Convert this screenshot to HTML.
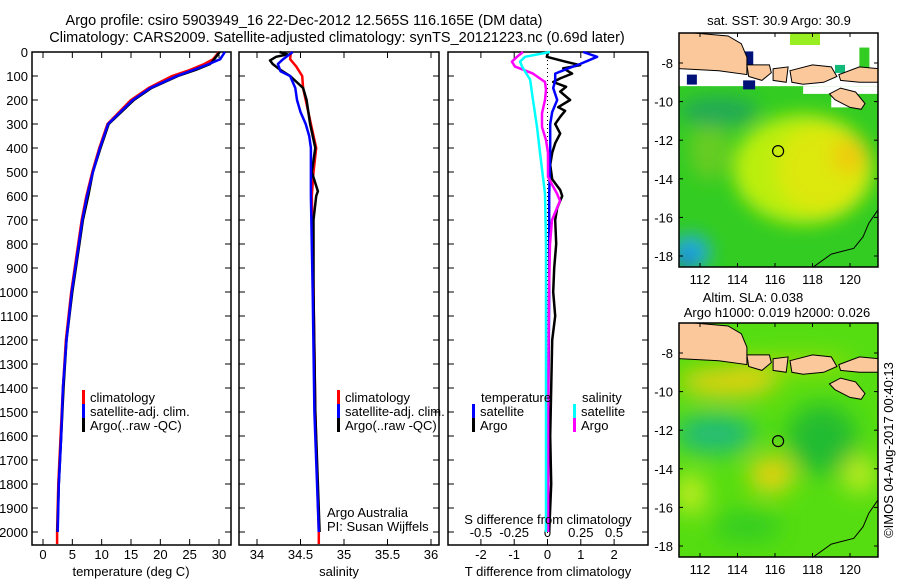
<!DOCTYPE html>
<html><head><meta charset="utf-8">
<style>
html,body{margin:0;padding:0;background:#fff;}
svg{display:block;font-family:"Liberation Sans",sans-serif;}
text{font-size:13px;fill:#000;}
</style></head>
<body>
<svg id="chart" width="900" height="580" viewBox="0 0 900 580" xmlns="http://www.w3.org/2000/svg">
<defs>
<filter id="blur1" x="-50%" y="-50%" width="200%" height="200%"><feGaussianBlur stdDeviation="9"/></filter>
<filter id="blur2" x="-50%" y="-50%" width="200%" height="200%"><feGaussianBlur stdDeviation="12"/></filter>
<clipPath id="clipM1"><rect x="679" y="33" width="199" height="234"/></clipPath>
<clipPath id="clipM2"><rect x="679" y="323" width="199" height="234"/></clipPath>
</defs>
<text x="304" y="25" text-anchor="middle" style="font-size:14.5px">Argo profile: csiro 5903949_16 22-Dec-2012 12.565S 116.165E (DM data)</text>
<text x="337" y="42" text-anchor="middle" style="font-size:14.5px">Climatology: CARS2009. Satellite-adjusted climatology: synTS_20121223.nc (0.69d later)</text>
<g id="g1"></g>
<g id="g2"></g>
<g id="g3"></g>
<g id="m1"></g>
<g id="m2"></g>
<text transform="translate(893,450) rotate(-90)" text-anchor="middle">©IMOS 04-Aug-2017 00:40:13</text>
</svg>
<script>
// ---- data ----
const depthTicks=[0,100,200,300,400,500,600,700,800,900,1000,1100,1200,1300,1400,1500,1600,1700,1800,1900,2000];
const tempTicks=[0,5,10,15,20,25,30];
const salTicks=[34,34.5,35,35.5,36];
const salTickLabels=["34","34.5","35","35.5","36"];
const dtTicks=[-2,-1,0,1,2];
const dsTicks=[-0.5,-0.25,0,0.25,0.5];
const dsTickLabels=["-0.5","-0.25","0","0.25","0.5"];

const tDepthClim=[0,30,50,75,100,150,200,300,400,500,600,700,800,1000,1200,1400,1600,1800,2000,2050];
const tempClim=[30.0,29.0,27.5,25.0,22.0,18.0,15.0,11.0,9.6,8.4,7.4,6.6,6.0,4.8,3.9,3.4,3.0,2.6,2.4,2.4];
const tDepthSat=[0,30,50,75,100,150,200,300,400,500,600,700,800,1000,1200,1400,1600,1800,2000];
const tempSat=[31.0,30.2,28.3,25.6,22.8,18.3,15.3,11.1,9.7,8.5,7.5,6.7,6.1,4.9,4.0,3.4,3.1,2.7,2.5];
const tDepthArgo=[0,30,50,75,100,150,200,300,400,500,600,700,800,1000,1200,1400,1600,1800,2000];
const tempArgo=[30.1,29.2,28.5,26.0,23.0,18.5,15.5,11.2,9.8,8.5,7.7,6.8,6.2,5.0,4.0,3.5,3.1,2.7,2.45];

const sDepthClim=[0,30,60,100,150,200,300,400,500,600,800,1000,1500,2000,2050];
const salClim=[34.39,34.38,34.45,34.52,34.53,34.56,34.62,34.68,34.65,34.63,34.64,34.65,34.67,34.71,34.71];
const sDepthSat=[0,30,50,80,100,150,200,250,300,350,400,600,1000,1500,2000];
const salSat=[34.41,34.30,34.24,34.27,34.38,34.44,34.46,34.50,34.56,34.60,34.62,34.62,34.64,34.66,34.71];
const sDepthArgo=[0,10,20,35,50,70,100,150,200,300,400,500,580,600,700,800,1000,1500,2000];
const salArgo=[34.26,34.35,34.22,34.15,34.18,34.25,34.38,34.53,34.57,34.61,34.67,34.63,34.70,34.68,34.65,34.65,34.65,34.67,34.72];

const dtDepthSat=[0,20,50,70,90,120,150,200,250,300,400,600,1000,1500,2000];
const dtSat=[1.07,1.49,0.98,0.59,0.23,0.23,0.17,0.29,0.14,0.08,0.08,0.05,0.05,0.02,0.02];
const dtDepthArgo=[0,20,40,55,68,90,110,125,145,165,200,230,245,270,300,340,380,420,470,530,575,600,650,700,800,900,1000,1100,1200,1400,1600,1800,2000];
const dtArgo=[0.02,-0.02,0.53,0.98,0.47,0.74,0.38,0.17,0.56,0.38,0.68,0.32,0.53,0.38,0.23,0.38,0.23,0.14,0.08,0.14,0.38,0.44,0.29,0.23,0.26,0.2,0.17,0.23,0.14,0.11,0.08,0.11,0.05];
const dsDepthArgo=[0,20,40,61,90,125,158,200,255,312,367,420,520,560,590,620,660,700,800,1000,1500,2000];
const dsArgo=[-0.184,-0.229,-0.267,-0.244,-0.109,-0.019,-0.011,-0.019,-0.041,-0.041,-0.011,0.004,0.004,0.041,0.071,0.094,0.064,0.034,0.019,0.011,0.004,0.004];
const dsDepthSat=[0,20,40,61,115,200,312,420,590,800,1000,1500,2000];
const dsSat=[0.019,-0.169,-0.206,-0.191,-0.131,-0.109,-0.079,-0.056,-0.019,-0.011,-0.011,-0.011,-0.011];

const latTicks=[-8,-10,-12,-14,-16,-18];
const lonTicks=[112,114,116,118,120];
const argoLon=116.165, argoLat=-12.565;

// ---- helpers ----
const NS="http://www.w3.org/2000/svg";
function mk(parent,tag,attrs,txt){const e=document.createElementNS(NS,tag);for(const k in attrs)e.setAttribute(k,attrs[k]);if(txt!==undefined)e.textContent=txt;parent.appendChild(e);return e;}
const yD=d=>52+d*0.24;
function pathFrom(xs,ds,xf){return xs.map((v,i)=>(i?'L':'M')+xf(v).toFixed(1)+','+yD(ds[i]).toFixed(1)).join('');}

function panel(g,x0,x1,name){
  const r=mk(g,'rect',{x:x0,y:52,width:x1-x0,height:493,fill:'none',stroke:'#000','stroke-width':1.5});
  
  
  depthTicks.forEach(d=>{
    mk(g,'line',{x1:x0,x2:x0+6,y1:yD(d),y2:yD(d),stroke:'#000'});
    mk(g,'line',{x1:x1-6,x2:x1,y1:yD(d),y2:yD(d),stroke:'#000'});
  });
}
function xticks(g,ticks,labels,xf,y,name){
  ticks.forEach((t,i)=>{
    const x=xf(t);
    mk(g,'line',{x1:x,x2:x,y1:545,y2:539,stroke:'#000'});
    mk(g,'line',{x1:x,x2:x,y1:52,y2:58,stroke:'#000'});
    const tx=mk(g,'text',{x:x,y:y,'text-anchor':'middle'},labels[i]);
    
    
  });
}
function series(g,xs,ds,xf,color,w,name){
  const p=mk(g,'path',{d:pathFrom(xs,ds,xf),fill:'none',stroke:color,'stroke-width':w,'stroke-linejoin':'round'});
  
  
}
function legend(g,x,y,color,label,name){
  mk(g,'rect',{x:x,y:y-7,width:3,height:14,fill:color});
  const t=mk(g,'text',{x:x+8,y:y+5},label);
  
  
}

// ---- panel 1 ----
const g1=document.getElementById('g1');
const xT=t=>43+t*(176/30);
panel(g1,32,231,'temperature');
depthTicks.forEach(d=>{const t=mk(g1,'text',{x:28,y:yD(d)+5,'text-anchor':'end'},String(d));
 
 });
xticks(g1,tempTicks,tempTicks.map(String),xT,559,'temperature');
mk(g1,'text',{x:131,y:576,'text-anchor':'middle'},'temperature (deg C)');
series(g1,tempClim,tDepthClim,xT,'#ff0000',2.5,'temperature-climatology-line');
series(g1,tempArgo,tDepthArgo,xT,'#000',2.5,'temperature-argo-line');
series(g1,tempSat,tDepthSat,xT,'#0000ff',2.5,'temperature-satellite-line');
legend(g1,82,397,'#ff0000','climatology','legend-climatology');
legend(g1,82,411,'#0000ff','satellite-adj. clim.','legend-satellite');
legend(g1,82,425,'#000','Argo(..raw -QC)','legend-argo');

// ---- panel 2 ----
const g2=document.getElementById('g2');
const xS=s=>257+(s-34)*87;
panel(g2,239,439,'salinity');
xticks(g2,salTicks,salTickLabels,xS,559,'salinity');
mk(g2,'text',{x:339,y:576,'text-anchor':'middle'},'salinity');
series(g2,salClim,sDepthClim,xS,'#ff0000',2.5,'salinity-climatology-line');
series(g2,salArgo,sDepthArgo,xS,'#000',2.5,'salinity-argo-line');
series(g2,salSat,sDepthSat,xS,'#0000ff',2.5,'salinity-satellite-line');
legend(g2,337,397,'#ff0000','climatology','legend-climatology-2');
legend(g2,337,411,'#0000ff','satellite-adj. clim.','legend-satellite-2');
legend(g2,337,425,'#000','Argo(..raw -QC)','legend-argo-2');
mk(g2,'text',{x:327,y:517},'Argo Australia');
mk(g2,'text',{x:327,y:531},'PI: Susan Wijffels');

// ---- panel 3 ----
const g3=document.getElementById('g3');
const xDT=t=>547.5+t*33.3;
const xDS=s=>547.5+s*133.2;
panel(g3,448,648,'difference');
xticks(g3,dtTicks,dtTicks.map(String),xDT,559,'t-difference');
dsTicks.forEach((s,i)=>{const t=mk(g3,'text',{x:xDS(s),y:537,'text-anchor':'middle'},dsTickLabels[i]);
 
 });
mk(g3,'line',{x1:xDT(0),x2:xDT(0),y1:52,y2:545,stroke:'#000','stroke-dasharray':'1,3'});
series(g3,dtArgo,dtDepthArgo,xDT,'#000',2.5,'t-diff-argo-line');
series(g3,dtSat,dtDepthSat,xDT,'#0000ff',2.5,'t-diff-satellite-line');
series(g3,dsArgo,dsDepthArgo,xDS,'#ff00ff',2.5,'s-diff-argo-line');
series(g3,dsSat,dsDepthSat,xDS,'#00ffff',2.5,'s-diff-satellite-line');
mk(g3,'text',{x:548,y:524,'text-anchor':'middle'},'S difference from climatology');
mk(g3,'text',{x:548,y:576,'text-anchor':'middle'},'T difference from climatology');
mk(g3,'text',{x:481,y:402},'temperature');
mk(g3,'text',{x:582,y:402},'salinity');
legend(g3,472,411,'#0000ff','satellite','legend-t-satellite');
legend(g3,472,425,'#000','Argo','legend-t-argo');
legend(g3,573,411,'#00ffff','satellite','legend-s-satellite');
legend(g3,573,425,'#ff00ff','Argo','legend-s-argo');

// ---- maps ----
function map(gid,y0,clip,kind){
  const g=document.getElementById(gid);
  const lx=lon=>681.25+(lon-111)*18.75;
  const ly=lat=>y0+30+(-8-lat)*19.3;
  const inner=mk(g,'g',{'clip-path':'url(#'+clip+')'});
  if(kind===1){
    mk(inner,'rect',{x:679,y:y0,width:199,height:234,fill:'#33cc22'});
    const b=mk(inner,'g',{filter:'url(#blur1)'});
    mk(b,'ellipse',{cx:lx(117.5),cy:ly(-13.5),rx:70,ry:55,fill:'#bbee11'});
    mk(b,'ellipse',{cx:lx(118.5),cy:ly(-13.5),rx:45,ry:45,fill:'#dde810'});
    mk(b,'ellipse',{cx:lx(120),cy:ly(-12.8),rx:18,ry:18,fill:'#eecc11'});
    mk(b,'ellipse',{cx:lx(112.5),cy:ly(-12.5),rx:20,ry:30,fill:'#66cc22'});
    mk(b,'ellipse',{cx:lx(111.5),cy:ly(-17.8),rx:20,ry:18,fill:'#22aadd'});
    mk(b,'ellipse',{cx:lx(111.2),cy:ly(-18.3),rx:8,ry:8,fill:'#1155dd'});
    mk(b,'ellipse',{cx:lx(113),cy:ly(-10.5),rx:40,ry:15,fill:'#22aa55'});
    mk(inner,'rect',{x:679,y:y0,width:199,height:ly(-9.2)-y0,fill:'#fff'});
    mk(inner,'rect',{x:lx(117.5),y:ly(-9.2),width:lx(121.5)-lx(117.5),height:ly(-9.6)-ly(-9.2),fill:'#fff'});
    mk(inner,'rect',{x:lx(119),y:ly(-9.6),width:lx(120.3)-lx(119),height:ly(-10.3)-ly(-9.6),fill:'#fff'});
    mk(inner,'rect',{x:lx(114.2),y:ly(-7.4),width:12,height:14,fill:'#001177'});
    mk(inner,'rect',{x:lx(111.3),y:ly(-8.6),width:10,height:10,fill:'#001177'});
    mk(inner,'rect',{x:lx(114.3),y:ly(-8.9),width:12,height:9,fill:'#001177'});
    mk(inner,'rect',{x:lx(116.8),y:y0,width:30,height:12,fill:'#99ee22'});
    mk(inner,'rect',{x:lx(120.5),y:ly(-7.2),width:10,height:20,fill:'#33cc22'});
    mk(inner,'rect',{x:lx(119.2),y:ly(-8.1),width:10,height:8,fill:'#11bb77'});
  } else {
    mk(inner,'rect',{x:679,y:y0,width:199,height:234,fill:'#55dd11'});
    const b=mk(inner,'g',{filter:'url(#blur2)'});
    mk(b,'ellipse',{cx:lx(113.5),cy:ly(-9.5),rx:50,ry:14,fill:'#e8d010'});
    mk(b,'ellipse',{cx:lx(112.8),cy:ly(-12.2),rx:40,ry:20,fill:'#22bb77'});
    mk(b,'ellipse',{cx:lx(118.5),cy:ly(-12.5),rx:35,ry:35,fill:'#22bb33'});
    mk(b,'ellipse',{cx:lx(115.8),cy:ly(-14.3),rx:22,ry:18,fill:'#eedd11'});
    mk(b,'ellipse',{cx:lx(115.8),cy:ly(-14.2),rx:10,ry:10,fill:'#eebb11'});
    mk(b,'ellipse',{cx:lx(111.5),cy:ly(-15.3),rx:15,ry:20,fill:'#ccee22'});
    mk(b,'ellipse',{cx:lx(114.5),cy:ly(-17),rx:35,ry:15,fill:'#33cc22'});
    mk(b,'ellipse',{cx:lx(120.5),cy:ly(-14.3),rx:15,ry:18,fill:'#ccee22'});
    mk(b,'ellipse',{cx:lx(117),cy:ly(-8.6),rx:60,ry:8,fill:'#aadd11'});
  }
  const land='#fac89a';
  const P=pts=>pts.map((p,i)=>(i?'L':'M')+lx(p[0]).toFixed(1)+','+ly(p[1]).toFixed(1)).join('')+'Z';
  const landAttrs={fill:land,stroke:'#000','stroke-width':1};
  mk(inner,'path',Object.assign({d:P([[110,-6.3],[113.5,-6.6],[114.2,-7.0],[114.5,-7.7],[114.5,-8.6],[113,-8.4],[111,-8.3],[110,-8.2]])},landAttrs));
  mk(inner,'path',Object.assign({d:P([[114.5,-8.1],[115.7,-8.1],[115.8,-8.5],[115.3,-8.9],[114.6,-8.7]])},landAttrs));
  mk(inner,'path',Object.assign({d:P([[115.9,-8.3],[116.7,-8.2],[116.6,-9.0],[115.9,-8.9]])},landAttrs));
  mk(inner,'path',Object.assign({d:P([[116.8,-8.4],[118.0,-8.1],[119.0,-8.2],[119.3,-8.7],[118.6,-9.0],[117.5,-9.1],[116.9,-9.0]])},landAttrs));
  mk(inner,'path',Object.assign({d:P([[119.4,-8.6],[120.5,-8.2],[121.6,-8.3],[121.6,-9.0],[120.5,-9.0],[119.5,-8.9]])},landAttrs));
  mk(inner,'path',Object.assign({d:P([[118.9,-9.6],[119.5,-9.3],[120.3,-9.5],[120.8,-10.1],[120.6,-10.4],[120.0,-10.3],[119.2,-9.9]])},landAttrs));
  mk(inner,'path',{d:P([[121.5,-15.6],[121.0,-16.3],[120.7,-17.0],[120.2,-17.6],[119.0,-17.9],[118.0,-18.6],[117.5,-19]]).replace('Z',''),fill:'none',stroke:'#000','stroke-width':1});
  mk(g,'rect',{x:679,y:y0,width:199,height:234,fill:'none',stroke:'#000','stroke-width':1.5});
  const c=mk(g,'circle',{cx:lx(argoLon),cy:ly(argoLat),r:5.5,fill:'none',stroke:'#000','stroke-width':1.2});
  
  
  latTicks.forEach(l=>{
    mk(g,'line',{x1:679,x2:683,y1:ly(l),y2:ly(l),stroke:'#000'});
    mk(g,'line',{x1:874,x2:878,y1:ly(l),y2:ly(l),stroke:'#000'});
    const t=mk(g,'text',{x:673,y:ly(l)+5,'text-anchor':'end'},String(l));
    
    
  });
  lonTicks.forEach(l=>{
    mk(g,'line',{x1:lx(l),x2:lx(l),y1:y0,y2:y0+4,stroke:'#000'});
    mk(g,'line',{x1:lx(l),x2:lx(l),y1:y0+230,y2:y0+234,stroke:'#000'});
    const t=mk(g,'text',{x:lx(l),y:y0+251,'text-anchor':'middle'},String(l));
    
    
  });
}
map('m1',33,'clipM1',1);
map('m2',323,'clipM2',2);
const m1=document.getElementById('m1'), m2=document.getElementById('m2');
mk(m1,'text',{x:779,y:25,'text-anchor':'middle','font-size':'12'},'sat. SST: 30.9 Argo: 30.9');
mk(m2,'text',{x:753,y:302,'text-anchor':'middle','font-size':'12'},'Altim. SLA: 0.038');
mk(m2,'text',{x:777,y:317,'text-anchor':'middle','font-size':'12'},'Argo h1000: 0.019 h2000: 0.026');
</script>
</body></html>
